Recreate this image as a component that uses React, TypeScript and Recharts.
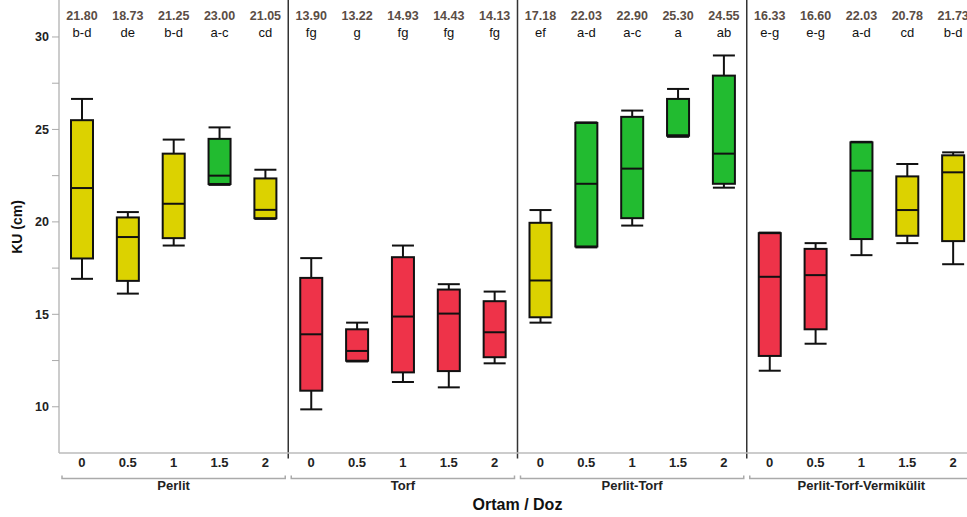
import React from "react";
import { ComposedChart, Bar, XAxis, YAxis, ReferenceLine, Label } from "recharts";

const groups = ["Perlit", "Torf", "Perlit-Torf", "Perlit-Torf-Vermikülit"];
const doses = ["0", "0.5", "1", "1.5", "2"];

// box plot values (5 doses per group)
const minVals = [16.92, 16.12, 18.72, 22.0, 20.16, 9.86, 12.45, 11.34, 11.05, 12.35, 14.55, 18.62, 19.8, 24.6, 21.85, 11.95, 13.41, 18.2, 18.85, 17.71];
const q1Vals = [18.02, 16.81, 19.12, 22.05, 20.2, 10.87, 12.49, 11.86, 11.93, 12.68, 14.84, 18.67, 20.2, 24.66, 22.06, 12.75, 14.19, 19.07, 19.25, 18.96];
const medVals = [21.83, 19.18, 20.98, 22.5, 20.65, 13.92, 13.02, 14.88, 15.04, 14.03, 16.83, 22.06, 22.88, 24.68, 23.69, 17.03, 17.12, 22.77, 20.64, 22.68];
const q3Vals = [25.5, 20.24, 23.69, 24.49, 22.35, 16.97, 14.19, 18.09, 16.34, 15.71, 19.95, 25.35, 25.68, 26.65, 27.91, 19.39, 18.54, 24.3, 22.46, 23.6];
const maxVals = [26.65, 20.53, 24.45, 25.11, 22.82, 18.04, 14.55, 18.72, 16.63, 16.23, 20.64, 25.38, 26.02, 27.19, 29.0, 19.42, 18.85, 24.33, 23.13, 23.76];
const means = ["21.80", "18.73", "21.25", "23.00", "21.05", "13.90", "13.22", "14.93", "14.43", "14.13", "17.18", "22.03", "22.90", "25.30", "24.55", "16.33", "16.60", "22.03", "20.78", "21.73"];
const letters = ["b-d", "de", "b-d", "a-c", "cd", "fg", "g", "fg", "fg", "fg", "ef", "a-d", "a-c", "a", "ab", "e-g", "e-g", "a-d", "cd", "b-d"];
const classes = ["y", "y", "y", "g", "y", "r", "r", "r", "r", "r", "y", "g", "g", "g", "g", "r", "r", "g", "y", "y"];

const yTicks = [10, 12.5, 15, 17.5, 20, 22.5, 25, 27.5, 30];
const xTicks = minVals.map((_, i) => i);

const COLORS: Record<string, string> = { y: "#dcd200", g: "#22bb30", r: "#ee3349" };

const CHART_W = 990;
const LEFT = 59;
const RIGHT = 14;
const BAND = (CHART_W - LEFT - RIGHT) / 20;
const Y_MAX = 32;

const data = minVals.map((v, i) => ({
  idx: i,
  range: [v, maxVals[i]],
  q1: q1Vals[i],
  med: medVals[i],
  q3: q3Vals[i],
  mean: means[i],
  letter: letters[i],
  cls: classes[i],
}));

const BoxShape = (props: any) => {
  const { x, y, width, height, payload } = props;
  const lo = payload.range[0];
  const hi = payload.range[1];
  const toPx = (v: number) => y + ((hi - v) / (hi - lo)) * height;
  const cx = x + width / 2;
  const top = toPx(Y_MAX);
  const s = { stroke: "#111", strokeWidth: 2 };
  return (
    <g>
      <line x1={cx} x2={cx} y1={toPx(hi)} y2={toPx(payload.q3)} {...s} />
      <line x1={cx} x2={cx} y1={toPx(payload.q1)} y2={toPx(lo)} {...s} />
      <line x1={x} x2={x + width} y1={toPx(hi)} y2={toPx(hi)} {...s} />
      <line x1={x} x2={x + width} y1={toPx(lo)} y2={toPx(lo)} {...s} />
      <rect
        x={x}
        y={toPx(payload.q3)}
        width={width}
        height={toPx(payload.q1) - toPx(payload.q3)}
        fill={COLORS[payload.cls]}
        {...s}
      />
      <line x1={x} x2={x + width} y1={toPx(payload.med)} y2={toPx(payload.med)} {...s} />
      <text x={cx} y={top + 20} textAnchor="middle" fontSize={12.5} fontWeight="bold" fill="#5a4d45">
        {payload.mean}
      </text>
      <text x={cx} y={top + 37} textAnchor="middle" fontSize={13} fill="#111">
        {payload.letter}
      </text>
    </g>
  );
};

const YTick = (props: any) => {
  const { x, y, payload } = props;
  if (payload.value % 5 !== 0) return null;
  return (
    <text x={x} y={y} dy={4.5} textAnchor="end" fontSize={12.5} fontWeight="bold" fill="#222">
      {payload.value}
    </text>
  );
};

const XTick = (props: any) => {
  const { x, y, payload } = props;
  const i = payload.value;
  const dose = doses[i % 5];
  const first = i % 5 === 0;
  const bx1 = x - BAND / 2 + 3;
  const bx2 = x + 4.5 * BAND - 3;
  const by = y + 25.5;
  return (
    <g>
      <text x={x} y={y + 13.5} textAnchor="middle" fontSize={13} fontWeight="bold" fill="#222">
        {dose}
      </text>
      {first && (
        <g>
          <path
            d={`M${bx1},${by - 3} L${bx1},${by} L${bx2},${by} L${bx2},${by - 3}`}
            fill="none"
            stroke="#aaa"
            strokeWidth={1.5}
          />
          <text x={x + 2 * BAND} y={y + 36.5} textAnchor="middle" fontSize={13} fontWeight="bold" fill="#222">
            {groups[i / 5]}
          </text>
        </g>
      )}
    </g>
  );
};

export default function App() {
  return (
    <div style={{ position: "absolute", left: 0, top: 0, width: 967, height: 517, overflow: "hidden", background: "#fff" }}>
      <ComposedChart
        width={CHART_W}
        height={517}
        data={data}
        margin={{ top: 0, right: RIGHT, bottom: 0, left: 0 }}
        style={{ fontFamily: "'Liberation Sans', Arial, sans-serif" }}
      >
        <XAxis
          dataKey="idx"
          type="number"
          domain={[-0.5, 19.5]}
          ticks={xTicks}
          interval={0}
          height={64}
          tickSize={0}
          tickMargin={0}
          tickLine={false}
          axisLine={{ stroke: "#bbb", strokeWidth: 1.5 }}
          tick={<XTick />}
        >
          <Label value="Ortam / Doz" position="insideBottom" offset={7} fontSize={16} fontWeight="bold" fill="#111" />
        </XAxis>
        <YAxis
          domain={[7.5, Y_MAX]}
          ticks={yTicks}
          interval={0}
          width={LEFT}
          tickSize={7}
          tickMargin={3}
          tickLine={{ stroke: "#aaa" }}
          axisLine={{ stroke: "#bbb", strokeWidth: 1.5 }}
          tick={<YTick />}
          label={{
            content: () => (
              <text transform="translate(22,227) rotate(-90)" textAnchor="middle" fontSize={14} fontWeight="bold" fill="#111">
                KU (cm)
              </text>
            ),
          }}
        />
        {[4.5, 9.5, 14.5].map((v) => (
          <ReferenceLine
            key={v}
            segment={[{ x: v, y: 7.2 }, { x: v, y: Y_MAX }]}
            ifOverflow="visible"
            stroke="#333"
            strokeWidth={1.5}
          />
        ))}
        <Bar dataKey="range" barSize={22} shape={<BoxShape />} isAnimationActive={false} />
      </ComposedChart>
    </div>
  );
}
